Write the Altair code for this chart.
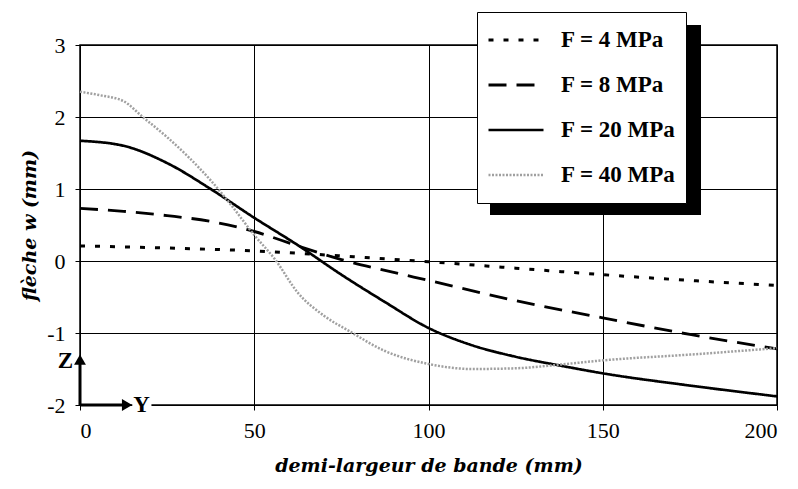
import altair as alt
import pandas as pd

labels = ["F = 4 MPa", "F = 8 MPa", "F = 20 MPa", "F = 40 MPa"]

x4 = [0, 25, 50, 75, 100, 125, 150, 175, 200]
y4 = [0.21, 0.18, 0.14, 0.07, -0.01, -0.10, -0.19, -0.27, -0.34]

x8 = [0, 12.5, 25, 37.5, 50, 62.5, 75, 87.5, 100, 125, 150, 175, 200]
y8 = [0.73, 0.69, 0.63, 0.55, 0.41, 0.21, 0.02, -0.13, -0.27, -0.55, -0.79, -1.02, -1.22]

x20 = [0, 12.5, 25, 37.5, 50, 62.5, 75, 87.5, 100, 112.5, 125, 137.5, 150, 175, 200]
y20 = [1.67, 1.60, 1.36, 1.00, 0.60, 0.22, -0.19, -0.57, -0.93, -1.17, -1.33, -1.45, -1.56, -1.73, -1.88]

x40 = [0, 6, 12.5, 18, 25, 31, 37.5, 43, 50, 56, 62.5, 70, 77.5, 87.5, 100,
       112.5, 125, 137.5, 150, 175, 200]
y40 = [2.35, 2.30, 2.22, 2.00, 1.72, 1.45, 1.12, 0.80, 0.36, 0.02, -0.44, -0.76, -0.98, -1.25, -1.43,
       -1.50, -1.49, -1.44, -1.38, -1.30, -1.21]

x_ticks = [0, 50, 100, 150, 200]
y_ticks = [-2, -1, 0, 1, 2, 3]

rows = []
for lab, xs, ys in zip(labels, [x4, x8, x20, x40], [y4, y8, y20, y40]):
    for a, b in zip(xs, ys):
        rows.append({"y_mm": a, "w": b, "F": lab})
df = pd.DataFrame(rows)

colors = ["black", "black", "black", "#a0a0a0"]
dashes = [[5, 10], [18, 10], [1, 0], [2, 1.5]]
widths = [3, 2.5, 2.5, 2]

xscale = alt.Scale(domain=[0, 200], nice=False)
yscale = alt.Scale(domain=[-2, 3], nice=False)

leg = alt.Legend(
    title=None, orient="none", legendX=397, legendY=-33,
    symbolType="stroke", symbolSize=3025, clipHeight=36, rowPadding=9,
    padding=10, labelOffset=16, labelFont="Liberation Serif", labelFontSize=23,
    labelFontWeight="bold", labelColor="black", fillColor="white",
    strokeColor="black", labelLimit=300,
)

shadow = alt.Chart(pd.DataFrame({"a": [0]})).mark_rect(color="black").encode(
    x=alt.value(410), x2=alt.value(621), y=alt.value(-20), y2=alt.value(170)
)

lines = alt.Chart(df).mark_line(interpolate="monotone").encode(
    x=alt.X("y_mm:Q", scale=xscale,
            axis=alt.Axis(values=x_ticks, title="demi-largeur de bande  (mm)")),
    y=alt.Y("w:Q", scale=yscale,
            axis=alt.Axis(values=y_ticks, labelExpr="toString(datum.value)",
                          title="flèche w (mm)")),
    color=alt.Color("F:N", scale=alt.Scale(domain=labels, range=colors), legend=leg),
    strokeDash=alt.StrokeDash("F:N", scale=alt.Scale(domain=labels, range=dashes), legend=leg),
    strokeWidth=alt.StrokeWidth("F:N", scale=alt.Scale(domain=labels, range=widths), legend=leg),
)

base = alt.Chart(pd.DataFrame({"a": [0]}))
z_rule = base.mark_rule(strokeWidth=3, color="black").encode(
    x=alt.datum(0), y=alt.datum(-2), y2=alt.datum(-1.42))
y_rule = base.mark_rule(strokeWidth=3, color="black").encode(
    x=alt.datum(0), x2=alt.datum(12.5), y=alt.datum(-2))
z_head = base.mark_point(shape="triangle-up", filled=True, size=140, color="black", opacity=1).encode(
    x=alt.datum(0), y=alt.datum(-1.37))
y_head = base.mark_point(shape="triangle-right", filled=True, size=140, color="black", opacity=1).encode(
    x=alt.datum(13.5), y=alt.datum(-2))
gap = base.mark_rect(color="white").encode(
    x=alt.datum(15), x2=alt.datum(20.5), y=alt.value(356), y2=alt.value(364))
y_text = base.mark_text(align="left", baseline="middle", fontSize=23, fontWeight="bold",
                        font="Liberation Serif", color="black").encode(
    x=alt.datum(15.3), y=alt.datum(-2), text=alt.value("Y"))
z_text = base.mark_text(align="right", baseline="middle", fontSize=23, fontWeight="bold",
                        font="Liberation Serif", color="black", dx=-7).encode(
    x=alt.datum(0), y=alt.datum(-1.39), text=alt.value("Z"))

chart = alt.layer(shadow, lines, gap, z_rule, y_rule, z_head, y_head, y_text, z_text).properties(
    width=697, height=360,
    autosize=alt.AutoSizeParams(type="none"),
    padding={"left": 72, "top": 37, "right": 13, "bottom": 76},
    background="white",
).configure_view(
    stroke="black", strokeWidth=1.5
).configure_axis(
    grid=True, gridColor="black", gridWidth=1, gridOpacity=1, domain=False,
    tickColor="black", tickSize=5, ticks=True, zindex=0,
    labelFont="Liberation Serif", labelFontSize=22, labelColor="black",
    titleFont="DejaVu Serif", titleFontSize=19, titleFontStyle="italic",
    titleFontWeight="bold", titleColor="black",
).configure_axisX(
    labelPadding=10, titlePadding=15,
).configure_axisY(
    labelPadding=10, titlePadding=7,
)

chart.save("out.html", embed_options={"renderer": "svg", "actions": False})
